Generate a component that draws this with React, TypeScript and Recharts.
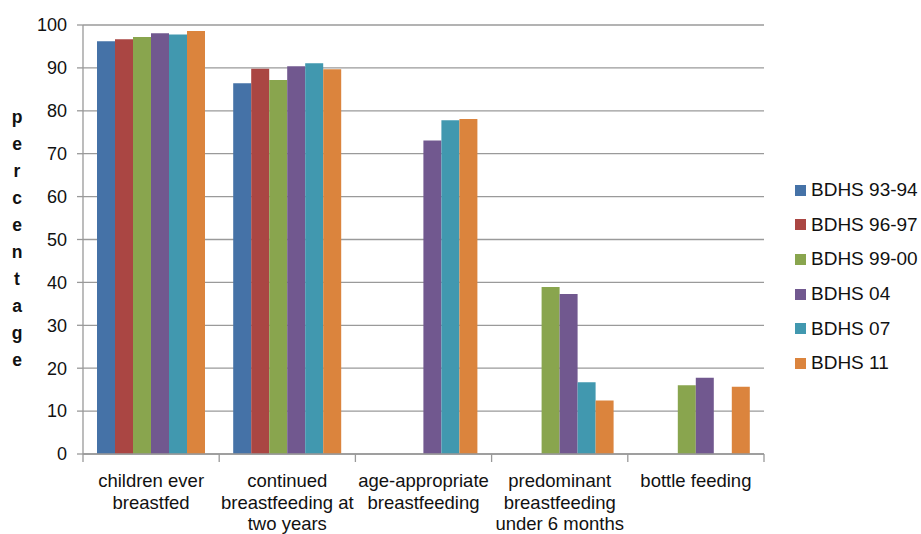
import { Bar, BarChart, CartesianGrid, XAxis, YAxis } from "recharts";

const categories = [
  "children ever\nbreastfed",
  "continued\nbreastfeeding at\ntwo years",
  "age-appropriate\nbreastfeeding",
  "predominant\nbreastfeeding\nunder 6 months",
  "bottle feeding"
];

const seriesNames = ["BDHS 93-94", "BDHS 96-97", "BDHS 99-00", "BDHS 04", "BDHS 07", "BDHS 11"];
const seriesColors = ["#4572A7", "#AA4643", "#89A54E", "#71588F", "#4198AF", "#DB843D"];

const bdhs9394 = [96.2, 86.4, null, null, null];
const bdhs9697 = [96.7, 89.8, null, null, null];
const bdhs9900 = [97.2, 87.2, null, 38.9, 16.0];
const bdhs04 = [98.1, 90.4, 73.1, 37.3, 17.8];
const bdhs07 = [97.8, 91.1, 77.8, 16.7, null];
const bdhs11 = [98.6, 89.7, 78.1, 12.5, 15.7];

const yTicks = [0, 10, 20, 30, 40, 50, 60, 70, 80, 90, 100];
const yLabel = "percentage";

const seriesValues = [bdhs9394, bdhs9697, bdhs9900, bdhs04, bdhs07, bdhs11];
const data = categories.map((name, i) => {
  const row: Record<string, string | number | null> = { name };
  seriesNames.forEach((s, j) => {
    row[s] = seriesValues[j][i];
  });
  return row;
});

const W = 921;
const H = 534;
const PLOT_LEFT = 83;
const PLOT_RIGHT = 764;
const BAND = (PLOT_RIGHT - PLOT_LEFT) / categories.length;
const FONT = "'Liberation Sans', Arial, Helvetica, sans-serif";

function CategoryTick(props: any) {
  const { x, y, payload, index } = props;
  const lines = String(payload.value).split("\n");
  return (
    <g>
      <line x1={x - BAND / 2} x2={x - BAND / 2} y1={y - 8} y2={y} stroke="#999" strokeWidth={1.3} />
      {index === categories.length - 1 && (
        <line x1={x + BAND / 2} x2={x + BAND / 2} y1={y - 8} y2={y} stroke="#999" strokeWidth={1.3} />
      )}
      <text x={x} y={y + 25} textAnchor="middle" fontSize={18.5} fill="#111" fontFamily={FONT}>
        {lines.map((l, i) => (
          <tspan key={i} x={x} dy={i === 0 ? 0 : 21.7}>
            {l}
          </tspan>
        ))}
      </text>
    </g>
  );
}

function VerticalLabel(props: any) {
  const { viewBox } = props;
  const letters = yLabel.split("");
  const start = viewBox.y + viewBox.height / 2 - ((letters.length - 1) * 27) / 2;
  return (
    <text x={17} textAnchor="middle" fontSize={17.5} fontWeight="bold" fill="#111" fontFamily={FONT}>
      {letters.map((c, i) => (
        <tspan key={i} x={17} y={start + i * 27 + 5}>
          {c}
        </tspan>
      ))}
    </text>
  );
}

export default function App() {
  return (
    <div style={{ position: "fixed", left: 0, top: 0, width: W, height: H, background: "#fff" }}>
      <BarChart
        width={W}
        height={H}
        data={data}
        margin={{ top: 25, right: W - PLOT_RIGHT, bottom: 0, left: 0 }}
        barCategoryGap={14}
        barGap={0}
      >
        <CartesianGrid vertical={false} stroke="#9a9a9a" strokeWidth={1.3} />
        <XAxis
          dataKey="name"
          height={80}
          interval={0}
          tickLine={false}
          axisLine={{ stroke: "#999", strokeWidth: 1.3 }}
          tick={<CategoryTick />}
        />
        <YAxis
          width={PLOT_LEFT}
          domain={[0, 100]}
          ticks={yTicks}
          interval={0}
          tickSize={6}
          tickMargin={10}
          axisLine={{ stroke: "#999", strokeWidth: 1.3 }}
          tickLine={{ stroke: "#999", strokeWidth: 1.3 }}
          tick={{ fontSize: 18, fill: "#111", fontFamily: FONT }}
          label={<VerticalLabel />}
        />
        {seriesNames.map((s, j) => (
          <Bar key={s} dataKey={s} fill={seriesColors[j]} isAnimationActive={false} />
        ))}
      </BarChart>
      <div style={{ position: "absolute", left: 795, top: 173, fontFamily: FONT, fontSize: 19, color: "#111" }}>
        {seriesNames.map((s, j) => (
          <div key={s} style={{ display: "flex", alignItems: "center", height: 34.6 }}>
            <span style={{ width: 11, height: 11, background: seriesColors[j], marginRight: 5, display: "inline-block" }} />
            {s}
          </div>
        ))}
      </div>
    </div>
  );
}
